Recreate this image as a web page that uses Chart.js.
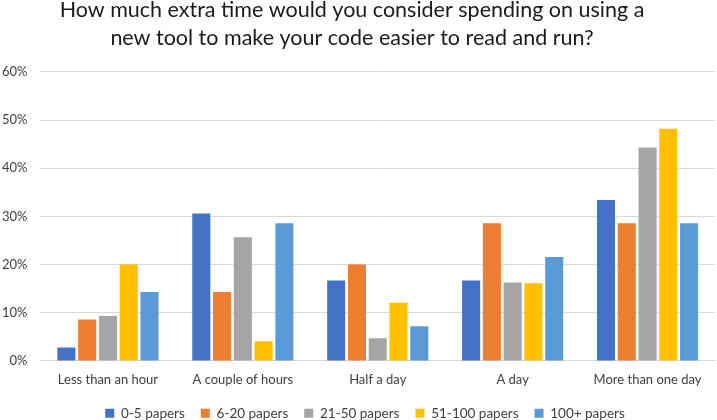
<!DOCTYPE html>
<html>
<head>
<meta charset="utf-8">
<script src="https://cdn.jsdelivr.net/npm/chart.js@4"></script>
<style>
  html, body { margin: 0; padding: 0; background: #fff; }
  #wrap { width: 717px; height: 420px; }
</style>
</head>
<body>
<div id="wrap"><canvas id="timeChart" width="717" height="420"></canvas></div>
<script>
const categories = ["Less than an hour", "A couple of hours", "Half a day", "A day", "More than one day"];
const seriesNames = ["0-5 papers", "6-20 papers", "21-50 papers", "51-100 papers", "100+ papers"];
const papers0to5 = [2.8, 30.6, 16.7, 16.7, 33.4];
const papers6to20 = [8.6, 14.3, 20.0, 28.6, 28.6];
const papers21to50 = [9.3, 25.7, 4.7, 16.3, 44.3];
const papers51to100 = [20.0, 4.1, 12.1, 16.1, 48.2];
const papers100plus = [14.3, 28.6, 7.2, 21.6, 28.6];
const yTicks = [0, 10, 20, 30, 40, 50, 60];

const colors = ["#4472C4", "#ED7D31", "#A5A5A5", "#FFC000", "#5B9BD5"];
const allSeries = [papers0to5, papers6to20, papers21to50, papers51to100, papers100plus];

const fontFamily = "Lato, 'Open Sans', sans-serif";

// nudge the legend a bit to the right, like the original
const legendShift = {
    id: "legendShift",
    afterLayout: function (chart) {
        if (chart.legend) {
            chart.legend.left += 13;
            chart.legend.right += 13;
        }
    },
};

new Chart(document.getElementById("timeChart"), {
    type: "bar",
    data: {
        labels: categories,
        datasets: allSeries.map(function (vals, i) {
            return {
                label: seriesNames[i],
                data: vals,
                backgroundColor: colors[i],
                borderWidth: 0,
                categoryPercentage: 0.77,
                barPercentage: 0.87,
            };
        }),
    },
    plugins: [legendShift],
    options: {
        responsive: false,
        animation: false,
        layout: { padding: { left: -11, right: 2, top: 0, bottom: -10 } },
        plugins: {
            title: {
                display: true,
                text: ["How much extra time would you consider spending on using a",
                       "new tool to make your code easier to read and run?"],
                color: "#1a1a1a",
                font: { family: fontFamily, size: 21.5, weight: "normal", lineHeight: 1.302 },
                padding: { top: -4, bottom: 20 },
            },
            legend: {
                position: "bottom",
                labels: {
                    boxWidth: 9,
                    boxHeight: 9,
                    padding: 16,
                    color: "#404040",
                    font: { family: fontFamily, size: 13.5 },
                },
            },
            tooltip: { enabled: false },
        },
        scales: {
            x: {
                grid: { display: false },
                border: { color: "#d9d9d9" },
                ticks: { color: "#404040", font: { family: fontFamily, size: 13 }, maxRotation: 0 },
            },
            y: {
                min: 0,
                max: 60,
                afterBuildTicks: function (axis) {
                    axis.ticks = yTicks.map(function (v) { return { value: v }; });
                },
                grid: { color: "#d9d9d9", drawTicks: false },
                border: { display: false },
                ticks: {
                    color: "#404040",
                    padding: 13,
                    font: { family: fontFamily, size: 13 },
                    callback: function (v) { return v + "%"; },
                },
            },
        },
    },
});
</script>
</body>
</html>
